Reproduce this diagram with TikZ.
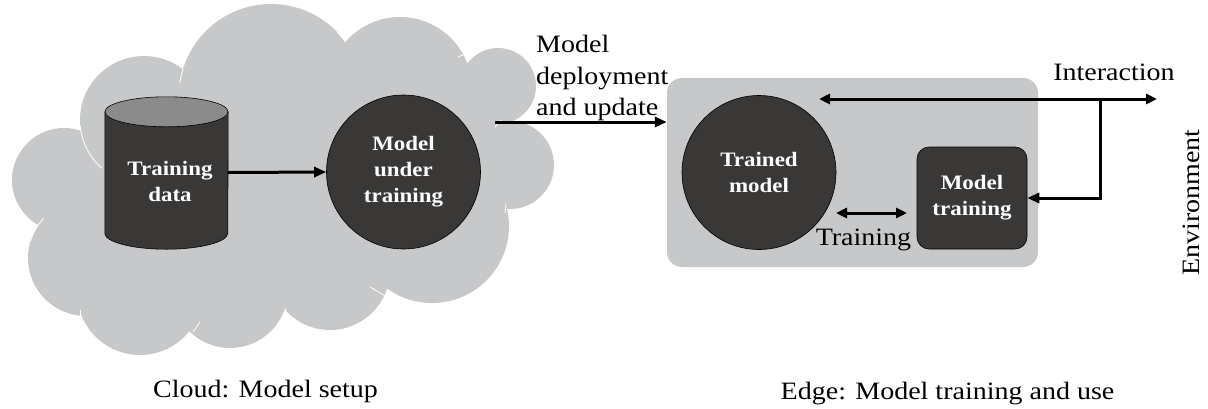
\documentclass[tikz,border=0pt]{standalone}
\usepackage{fontspec}
\setmainfont{Liberation Serif}[FakeStretch=1.12]
\usetikzlibrary{arrows.meta}
\definecolor{cloudgray}{RGB}{199,200,202}
\definecolor{darkfill}{RGB}{58,56,54}
\definecolor{cyltop}{RGB}{140,139,139}
\begin{document}
\begin{tikzpicture}[x=1pt,y=-1pt,
  lbl/.style={font=\fontsize{25}{31.5}\selectfont, inner sep=0pt},
  boldlbl/.style={font=\bfseries\fontsize{20.5}{26}\selectfont, text=white, align=center},
  darknode/.style={fill=darkfill, draw=black, line width=0.6pt},
  conn/.style={line width=3pt, -{Triangle[length=12pt,width=10pt]}},
  dconn/.style={line width=3pt, {Triangle[length=11pt,width=10pt]}-{Triangle[length=11pt,width=10pt]}},
  cloudsep/.style={draw=white, line width=0.8pt},
]
\useasboundingbox (0,0) rectangle (1208,408);

% cloud
\begin{scope}
\fill[cloudgray] (144,120) circle[radius=64pt];
\fill[cloudgray] (271,96) circle[radius=92pt];
\fill[cloudgray] (400,89) circle[radius=72pt];
\fill[cloudgray] (498,86) circle[radius=38pt];
\fill[cloudgray] (510,165) circle[radius=44pt];
\fill[cloudgray] (432,226) circle[radius=77pt];
\fill[cloudgray] (330,270) circle[radius=60pt];
\fill[cloudgray] (230,290) circle[radius=58pt];
\fill[cloudgray] (140,292) circle[radius=63pt];
\fill[cloudgray] (86,258) circle[radius=58pt];
\fill[cloudgray] (64,180) circle[radius=52pt];
\fill[cloudgray] (144,120) -- (271,96) -- (400,89) -- (498,86) -- (510,165) -- (432,226) -- (330,270) -- (230,290) -- (140,292) -- (86,258) -- (64,180) -- cycle;
% faint white seams of the cloud
\draw[cloudsep] (271,96) ++(163:92pt) arc[start angle=163, end angle=172, radius=92pt];
\draw[cloudsep] (271,96) ++(36:92pt) arc[start angle=36, end angle=44, radius=92pt];
\draw[cloudsep] (144,120) ++(185:64pt) arc[start angle=185, end angle=229, radius=64pt];
\draw[cloudsep] (86,258) ++(137:58pt) arc[start angle=137, end angle=163, radius=58pt];
\draw[cloudsep] (458,57) -- (470,52);
\draw[cloudsep] (495,127) -- (501,120);
\draw[cloudsep] (505,213) -- (506,204);
\draw[cloudsep] (370,287) -- (387,297);
\draw[cloudsep] (286,308) -- (283,320);
\draw[cloudsep] (200,322) -- (193,332);
\draw[cloudsep] (80,310) -- (80,317);
\end{scope}

% cylinder: training data
\node (data) [minimum width=123pt, minimum height=121pt, inner sep=0pt] at (166.5,172.5) {};
\filldraw[darknode] (data.north west) -- (data.south west)
  arc[start angle=180, end angle=360, x radius=61.5pt, y radius=16pt]
  -- (data.north east) -- cycle;
\filldraw[fill=cyltop, draw=black, line width=0.6pt] (data.north) ellipse[x radius=61.5pt, y radius=15pt];
\node[boldlbl] (datatext) at (170,181) {Training\\data};

% model under training
\node (mut) [circle, darknode, minimum size=154pt, inner sep=0pt, boldlbl] at (403.5,172) {Model\\under\\training};
\draw[conn] (data.east) -- (mut.west);

% edge box
\node (edge) [fill=cloudgray, rounded corners=15pt, minimum width=371pt, minimum height=189pt, inner sep=0pt] at (852.5,172.5) {};

% deployment arrow
\coordinate (cloudexit) at (495,122);
\draw[conn] (cloudexit) -- (edge.west |- cloudexit);
\node[lbl, align=left, anchor=north west] (deplabel) at (536,35) {Model\\deployment\\and update};

% trained model and model training
\node (tm) [circle, darknode, minimum size=154pt, inner sep=0pt, boldlbl] at (759,172.5) {Trained\\model};
\node (mt) [darknode, rounded corners=12pt, minimum width=110pt, minimum height=102pt, inner sep=0pt, boldlbl] at (972,198) {Model\\training};

\coordinate (trA) at (836,213);
\coordinate (trB) at (907,213);
\draw[dconn] (trA) -- (trB);
\node[lbl, anchor=base] (trlab) at (863.5,245) {Training};

% interaction
\coordinate (intL) at (819,99);
\coordinate (intR) at (1157,99);
\coordinate (intJ) at (1100,99);
\draw[dconn] (intL) -- (intR);
\draw[conn] (intJ) -- (intJ |- mt.east) -- (mt.east);
\node[lbl, anchor=base] (intlab) at (1114,80) {Interaction};
\node[lbl, anchor=base, rotate=90] (envlab) at (1199,202.5) {Environment};

% captions
\node[lbl, anchor=base] (cloudlab) at (265.5,397) {Cloud: Model setup};
\node[lbl, anchor=base] (edgelab) at (947.5,399) {Edge: Model training and use};
\end{tikzpicture}
\end{document}
